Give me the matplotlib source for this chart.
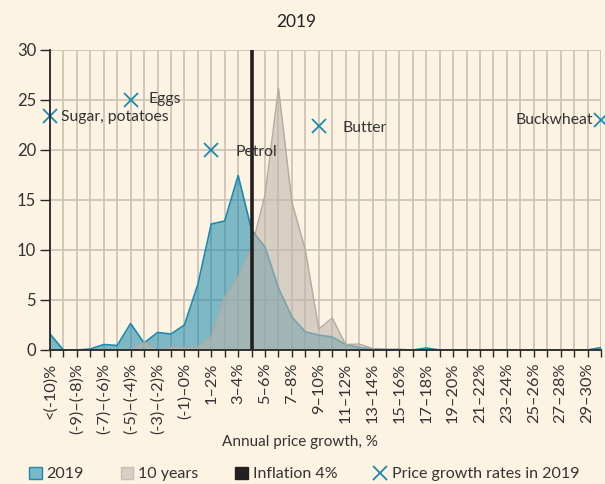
import numpy as np
import matplotlib
matplotlib.use("Agg")
import matplotlib.pyplot as plt
from matplotlib.lines import Line2D
from matplotlib.patches import Patch

plt.rcParams['font.family'] = ['Lato', 'DejaVu Sans']

categories = [
    "<(-10)%", "(-10)–(-9)%", "(-9)–(-8)%", "(-8)–(-7)%", "(-7)–(-6)%",
    "(-6)–(-5)%", "(-5)–(-4)%", "(-4)–(-3)%", "(-3)–(-2)%", "(-2)–(-1)%",
    "(-1)–0%", "0–1%", "1–2%", "2–3%", "3–4%", "4–5%", "5–6%", "6–7%",
    "7–8%", "8–9%", "9–10%", "10–11%", "11–12%", "12–13%", "13–14%",
    "14–15%", "15–16%", "16–17%", "17–18%", "18–19%", "19–20%", "20–21%",
    "21–22%", "22–23%", "23–24%", "24–25%", "25–26%", "26–27%", "27–28%",
    "28–29%", "29–30%", ">30%",
]

share_2019 = [
    1.6, 0.0, 0.0, 0.1, 0.55, 0.45, 2.65, 0.7, 1.75, 1.6,
    2.5, 6.55, 12.6, 12.9, 17.45, 12.0, 10.3, 6.2, 3.3, 1.8,
    1.5, 1.3, 0.55, 0.25, 0.1, 0.05, 0.05, 0.0, 0.2, 0.0,
    0.0, 0.0, 0.0, 0.0, 0.0, 0.0, 0.0, 0.0, 0.0, 0.0,
    0.0, 0.25,
]

share_10y = [
    0.0, 0.0, 0.0, 0.0, 0.0, 0.0, 0.0, 0.8, 0.0, 0.3,
    0.25, 0.3, 1.3, 5.3, 7.3, 10.2, 15.5, 26.2, 14.8, 10.0,
    2.1, 3.2, 0.55, 0.6, 0.15, 0.0, 0.0, 0.0, 0.0, 0.0,
    0.0, 0.0, 0.0, 0.0, 0.0, 0.0, 0.0, 0.0, 0.0, 0.0,
    0.0, 0.0,
]

inflation_pos = 15  # "Inflation 4%"

items = ["Sugar, potatoes", "Eggs", "Petrol", "Butter", "Buckwheat"]
item_pos = [0, 6, 12, 20, 41]
item_growth = [23.4, 25.0, 20.0, 22.4, 23.0]

bg = '#fdf3e3'
teal = '#1b8aae'
grey = '#beb5ac'
gridc = '#cec5b9'
dark = '#2a2626'

fig = plt.figure(figsize=(6.05, 4.84), dpi=100, facecolor=bg)
ax = fig.add_axes([50 / 605, 1 - 350 / 484, 551 / 605, 300 / 484], facecolor=bg)

x = np.arange(len(categories))
ax.fill_between(x, share_2019, color=teal, alpha=0.56, lw=0, zorder=2)
ax.plot(x, share_2019, color=teal, lw=1.2, zorder=2)
ax.fill_between(x, share_10y, color=grey, alpha=0.58, lw=0, zorder=3)
ax.plot(x, share_10y, color='#b3aaa0', lw=1.0, zorder=3)

ax.axvline(inflation_pos, color='#231f20', lw=2.6, zorder=4)

ax.plot(item_pos, item_growth, ls='none', marker='x', ms=10, mew=1.3,
        color=teal, zorder=5, clip_on=False)
offsets = [(11, -1), (18, 1), (24, -2), (24, -2), (-8, 0)]
aligns = ['left', 'left', 'left', 'left', 'right']
for name, px, py, off, ha in zip(items, item_pos, item_growth, offsets, aligns):
    ax.annotate(name, (px, py), xytext=off, textcoords='offset pixels',
                ha=ha, va='center', fontsize=11.3, color='#333333', zorder=6)

ax.set_xlim(0, len(categories) - 1)
ax.set_ylim(0, 30)
ax.set_yticks(range(0, 31, 5))
ax.set_xticks(x)
ax.set_xticklabels([c if i % 2 == 0 else '' for i, c in enumerate(categories)],
                   rotation=90, fontsize=11.8, color='#333333')
ax.tick_params(axis='y', labelsize=12, colors='#333333', length=7, width=1,
               color=dark, pad=3)
ax.tick_params(axis='x', length=5, width=1, color=dark, pad=4)

ax.grid(True, color=gridc, lw=1.3, zorder=0)
ax.set_axisbelow(True)
for s in ['top', 'right']:
    ax.spines[s].set_visible(False)
for s in ['left', 'bottom']:
    ax.spines[s].set_color(dark)
    ax.spines[s].set_linewidth(1.3)
    ax.spines[s].set_zorder(7)

fig.text(296 / 605, 1 - 22 / 484, '2019', ha='center', va='center',
         fontsize=12.5, color='#222222')
fig.text(300 / 605, 1 - 442 / 484, 'Annual price growth, %', ha='center', va='center',
         fontsize=11, color='#333333')

handles = [
    Patch(facecolor='#7bb8c6', edgecolor=teal, lw=1),
    Patch(facecolor='#d8cfc5', edgecolor='#c8bfb5', lw=1),
    Patch(facecolor='#231f20', edgecolor='#231f20'),
    Line2D([], [], ls='none', marker='x', ms=10, mew=1.3, color=teal),
]
fig.legend(handles, ['2019', '10 years', 'Inflation 4%', 'Price growth rates in 2019'],
           loc='center', bbox_to_anchor=(304 / 605, 1 - 474 / 484), ncol=4,
           frameon=False, fontsize=11.5, handlelength=0.8, handleheight=0.8,
           handletextpad=0.3, columnspacing=2.3, labelcolor='#333333',
           borderpad=0.1)

fig.savefig('out.png', dpi=100, facecolor=bg)
